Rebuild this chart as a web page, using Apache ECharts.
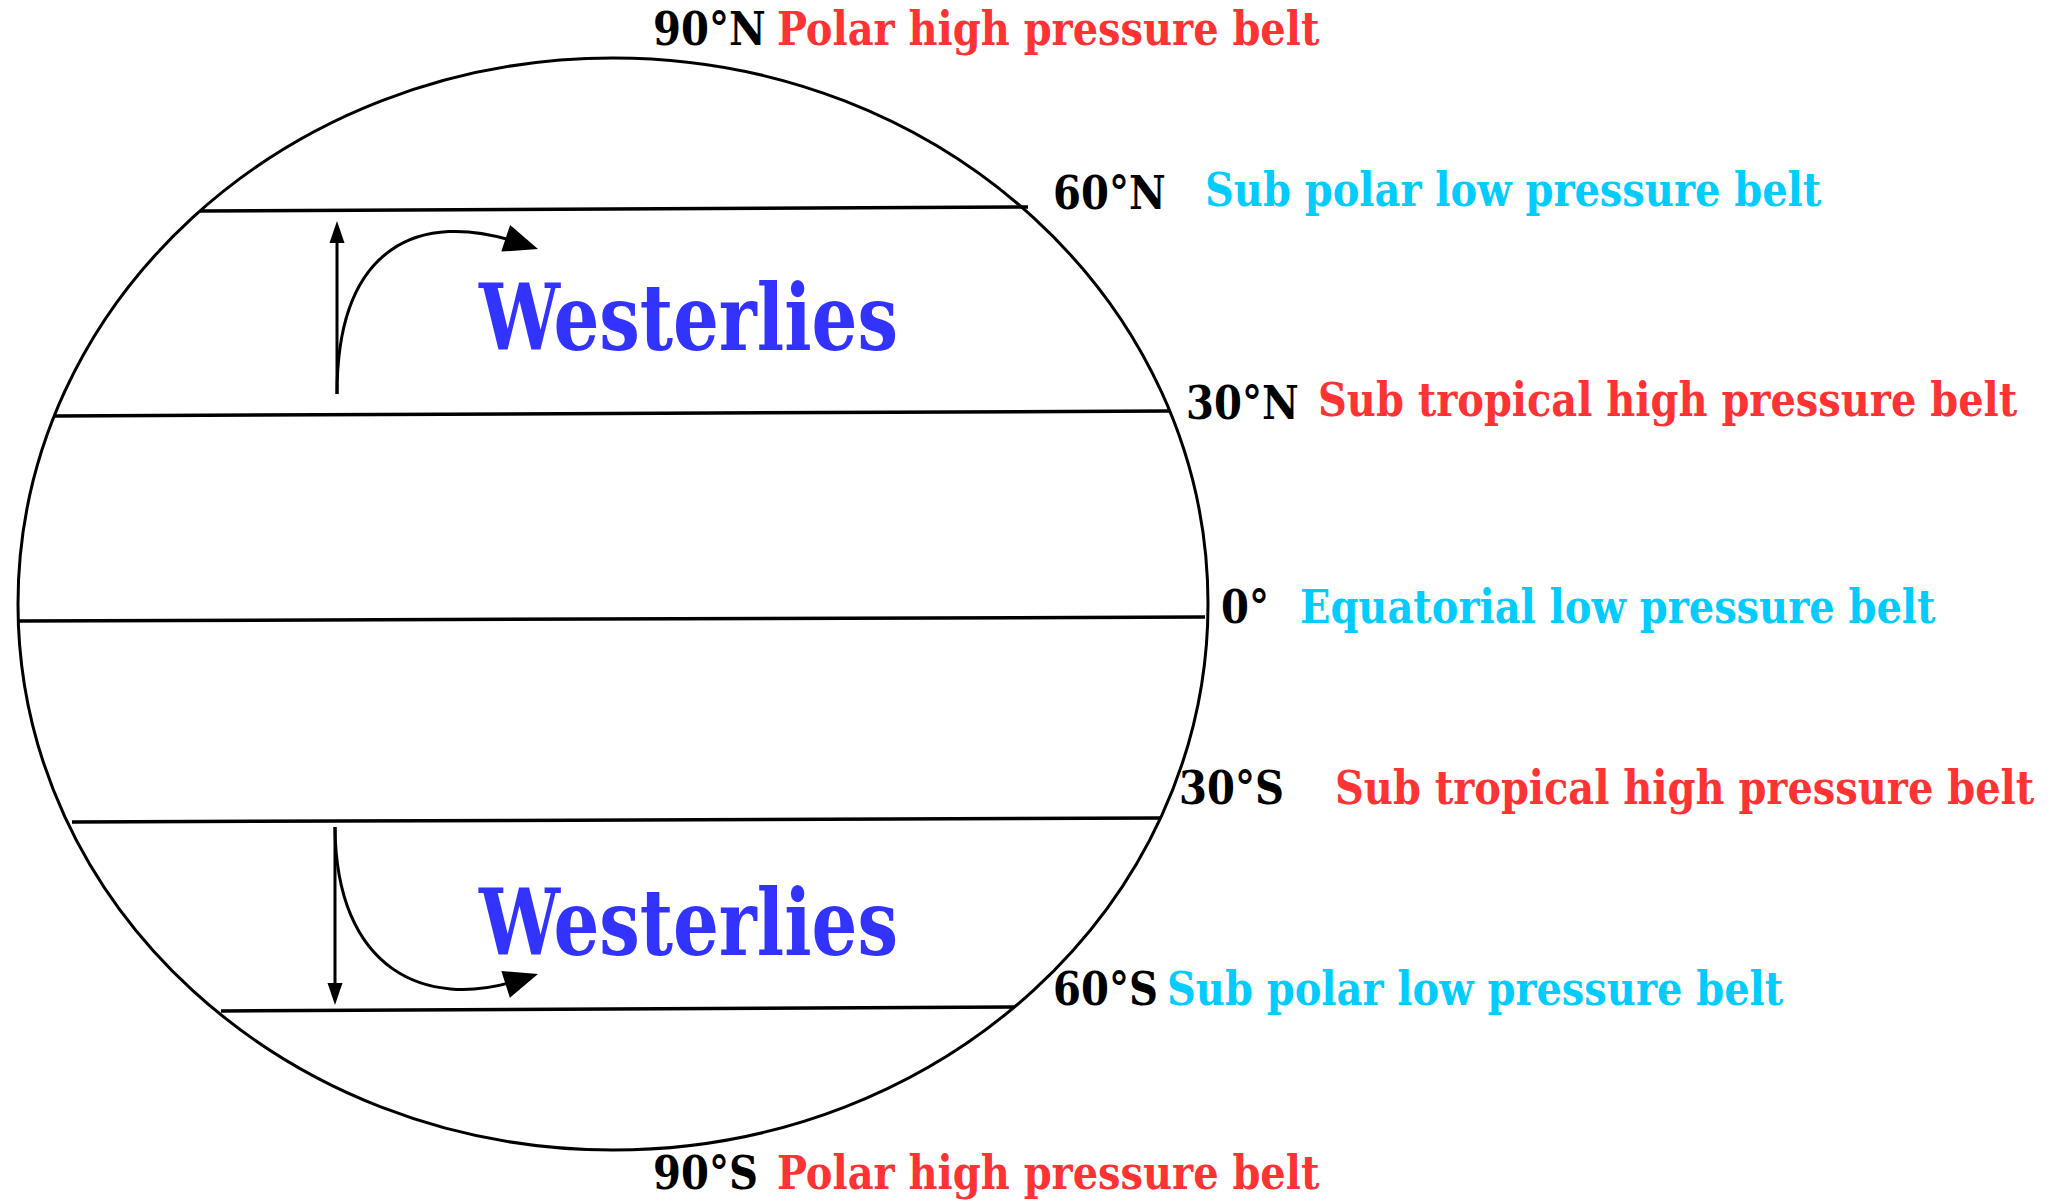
<!DOCTYPE html>
<html>
<head>
<meta charset="utf-8">
<title>Pressure belts</title>
<style>
  html, body { margin: 0; padding: 0; background: #fff; }
  #main { width: 2059px; height: 1201px; }
</style>
<script src="https://cdn.jsdelivr.net/npm/echarts@6/dist/echarts.min.js"></script>
</head>
<body>
<div id="main"></div>
<script>
// picture units: x to the right, y downwards (same as the 2059x1201 canvas)
var latNames = ['90°N', '60°N', '30°N', '0°', '30°S', '60°S', '90°S'];
var beltNames = ['Polar high pressure belt', 'Sub polar low pressure belt', 'Sub tropical high pressure belt',
  'Equatorial low pressure belt', 'Sub tropical high pressure belt', 'Sub polar low pressure belt', 'Polar high pressure belt'];
var beltKind = ['high', 'low', 'high', 'low', 'high', 'low', 'high'];
var latLabelAt = [[653, 29], [1053, 193], [1186, 403], [1221, 607], [1179, 788], [1053, 989], [653, 1173]];
var beltLabelAt = [[777, 29], [1205, 190], [1318, 400], [1300, 607], [1335, 788], [1167, 989], [777, 1173]];

// parallels 60N, 30N, 0, 30S, 60S : where they meet the globe
var parallelFrom = [[200, 211], [55, 416], [17, 621], [72, 822], [221, 1011]];
var parallelTo = [[1028, 207], [1169, 411], [1205, 617], [1161, 818], [1014, 1007]];

// globe: centre x, centre y, radius x, radius y
var globe = [[613, 604, 595, 546]];

var windName = 'Westerlies';
var windAt = [[479, 318], [479, 923]];

// arrows as cubic curves: start, ctrl1, ctrl2, tip
var straightArrows = [[337, 394, 337, 394, 337, 394, 337, 221], [335, 827, 335, 827, 335, 827, 335, 1005]];
var curvedArrows = [[337, 394, 337, 245, 420, 210, 538, 249], [335, 827, 336, 970, 425, 1010, 538, 974]];

var colours = { high: '#ff3333', low: '#00ccff', wind: '#3333ff', ink: '#000000' };
var fontFamily = '"DejaVu Serif Condensed", "DejaVu Serif", serif';

var myChart = echarts.init(document.getElementById('main'), null, { renderer: 'svg' });

function arrowItem(headLen, headWidth) {
  return function (params, api) {
    var p0 = api.coord([api.value(0), api.value(1)]);
    var p1 = api.coord([api.value(2), api.value(3)]);
    var p2 = api.coord([api.value(4), api.value(5)]);
    var p3 = api.coord([api.value(6), api.value(7)]);
    var dx = p3[0] - p2[0], dy = p3[1] - p2[1];
    var len = Math.sqrt(dx * dx + dy * dy);
    var ux = dx / len, uy = dy / len;
    var bx = p3[0] - ux * headLen, by = p3[1] - uy * headLen;
    return {
      type: 'group',
      children: [{
        type: 'bezierCurve',
        shape: { x1: p0[0], y1: p0[1], cpx1: p1[0], cpy1: p1[1], cpx2: p2[0], cpy2: p2[1],
          x2: p3[0] - ux * headLen * 0.6, y2: p3[1] - uy * headLen * 0.6 },
        style: { stroke: colours.ink, lineWidth: 3, fill: null }
      }, {
        type: 'polygon',
        shape: { points: [p3, [bx - uy * headWidth / 2, by + ux * headWidth / 2], [bx + uy * headWidth / 2, by - ux * headWidth / 2]] },
        style: { fill: colours.ink }
      }]
    };
  };
}

// text drawn left-anchored, squeezed a little to mimic the condensed face
function textItem(names, colourOf, size, squeeze) {
  return function (params, api) {
    var c = api.coord([api.value(0), api.value(1)]);
    var i = params.dataIndex;
    return {
      type: 'text',
      x: c[0],
      y: c[1],
      scaleX: squeeze,
      style: {
        text: names[i],
        fill: colourOf(i),
        fontFamily: fontFamily,
        fontWeight: 'bold',
        fontSize: size,
        align: 'left',
        verticalAlign: 'middle'
      }
    };
  };
}

var option = {
  animation: false,
  grid: { left: 0, right: 0, top: 0, bottom: 0 },
  xAxis: { type: 'value', min: 0, max: 2059, show: false },
  yAxis: { type: 'value', min: 0, max: 1201, inverse: true, show: false },
  series: [{
    name: 'globe',
    type: 'custom',
    coordinateSystem: 'cartesian2d',
    data: globe,
    renderItem: function (params, api) {
      var c = api.coord([api.value(0), api.value(1)]);
      var r = api.size([api.value(2), api.value(3)]);
      var k = 0.5523;
      var x = c[0], y = c[1], a = r[0], b = r[1];
      var d = 'M' + (x - a) + ' ' + y +
        ' C' + (x - a) + ' ' + (y - b * k) + ' ' + (x - a * k) + ' ' + (y - b) + ' ' + x + ' ' + (y - b) +
        ' C' + (x + a * k) + ' ' + (y - b) + ' ' + (x + a) + ' ' + (y - b * k) + ' ' + (x + a) + ' ' + y +
        ' C' + (x + a) + ' ' + (y + b * k) + ' ' + (x + a * k) + ' ' + (y + b) + ' ' + x + ' ' + (y + b) +
        ' C' + (x - a * k) + ' ' + (y + b) + ' ' + (x - a) + ' ' + (y + b * k) + ' ' + (x - a) + ' ' + y + ' Z';
      return { type: 'path', shape: { pathData: d }, style: { stroke: colours.ink, lineWidth: 3, fill: null } };
    }
  }, {
    name: 'parallels',
    type: 'lines',
    coordinateSystem: 'cartesian2d',
    data: parallelFrom.map(function (p, i) { return { coords: [p, parallelTo[i]] }; }),
    lineStyle: { color: colours.ink, width: 3.5, opacity: 1 }
  }, {
    name: 'straight arrows',
    type: 'custom',
    coordinateSystem: 'cartesian2d',
    data: straightArrows,
    renderItem: arrowItem(22, 15)
  }, {
    name: 'curved arrows',
    type: 'custom',
    coordinateSystem: 'cartesian2d',
    data: curvedArrows,
    renderItem: arrowItem(34, 28)
  }, {
    name: 'latitudes',
    type: 'custom',
    coordinateSystem: 'cartesian2d',
    data: latLabelAt,
    renderItem: textItem(latNames, function () { return colours.ink; }, 47, 0.95)
  }, {
    name: 'belts',
    type: 'custom',
    coordinateSystem: 'cartesian2d',
    data: beltLabelAt,
    renderItem: textItem(beltNames, function (i) { return colours[beltKind[i]]; }, 47, 0.945)
  }, {
    name: 'winds',
    type: 'custom',
    coordinateSystem: 'cartesian2d',
    data: windAt,
    renderItem: textItem([windName, windName], function () { return colours.wind; }, 91, 0.88)
  }]
};

myChart.setOption(option);
</script>
</body>
</html>
